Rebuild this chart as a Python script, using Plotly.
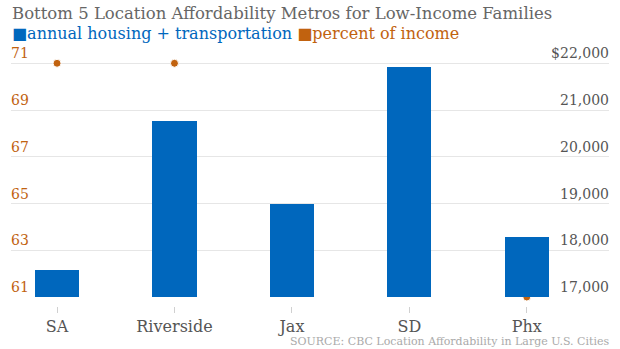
import plotly.graph_objects as go

metros = ["SA", "Riverside", "Jax", "SD", "Phx"]
annual_cost = [17570, 20770, 18980, 21930, 18290]
pct_income = [71.0, 71.0, 64.0, 62.0, 61.0]

left_ticks = [61, 63, 65, 67, 69, 71]
right_ticks = [17000, 18000, 19000, 20000, 21000, 22000]
right_labels = ["17,000", "18,000", "19,000", "20,000", "21,000", "$22,000"]

BLUE = "#0067bd"
ORANGE = "#c1620f"
FONT = "DejaVu Serif"

T, B = 44, 43
PH = 349 - T - B

fig = go.Figure()
fig.add_trace(go.Bar(
    x=metros, y=[v - 17000 for v in annual_cost], base=17000,
    marker=dict(color=BLUE, line=dict(width=0)), width=0.375,
    yaxis="y2", name="annual housing + transportation", showlegend=False,
))
fig.add_trace(go.Scatter(
    x=metros, y=pct_income, mode="markers",
    marker=dict(color=ORANGE, size=8, line=dict(color="white", width=1)),
    yaxis="y", name="percent of income", showlegend=False, cliponaxis=False,
))

fig.update_layout(
    width=620, height=349,
    margin=dict(l=11, r=11, t=T, b=B),
    plot_bgcolor="white", paper_bgcolor="white",
    font=dict(family=FONT, color="#555"),
    bargap=0,
    xaxis=dict(
        range=[-0.392, 4.70], anchor="free", position=0,
        showgrid=False, showline=False, zeroline=False,
        ticks="outside", ticklen=6, tickcolor="#d0d0d0", tickwidth=1,
        tickfont=dict(size=16, color="#555"),
    ),
    yaxis=dict(
        domain=[9 / PH, 1], range=[61, 71.825],
        tickvals=left_ticks, ticktext=[str(t) for t in left_ticks],
        ticklabelposition="inside top", ticklabelstandoff=-3,
        tickfont=dict(size=14, color=ORANGE),
        showgrid=True, gridcolor="#e6e6e6", gridwidth=1.2,
        zeroline=False, showline=False, ticks="",
    ),
    yaxis2=dict(
        overlaying="y", side="right", range=[17000, 22412],
        tickvals=right_ticks, ticktext=right_labels,
        ticklabelposition="inside top", ticklabelstandoff=-3,
        tickfont=dict(size=14, color="#555"),
        showgrid=False, zeroline=False, showline=False, ticks="",
    ),
    annotations=[
        dict(text="Bottom 5 Location Affordability Metros for Low-Income Families",
             xref="paper", yref="paper", x=0, y=1, xanchor="left", yanchor="middle",
             xshift=-1, yshift=T - 13, showarrow=False,
             font=dict(size=16.5, color="#666", family=FONT)),
        dict(text=f"<span style='color:{BLUE}'>■annual housing + transportation</span> "
                  f"<span style='color:{ORANGE}'>■percent of income</span>",
             xref="paper", yref="paper", x=0, y=1, xanchor="left", yanchor="middle",
             xshift=-1, yshift=T - 33, showarrow=False,
             font=dict(size=16, family=FONT)),
        dict(text="SOURCE: CBC Location Affordability in Large U.S. Cities",
             xref="paper", yref="paper", x=1, y=0, xanchor="right", yanchor="middle",
             xshift=2, yshift=-(341 - (349 - B)), showarrow=False,
             font=dict(size=11, color="#aaa", family=FONT)),
    ],
)

fig.write_html("out.html")
